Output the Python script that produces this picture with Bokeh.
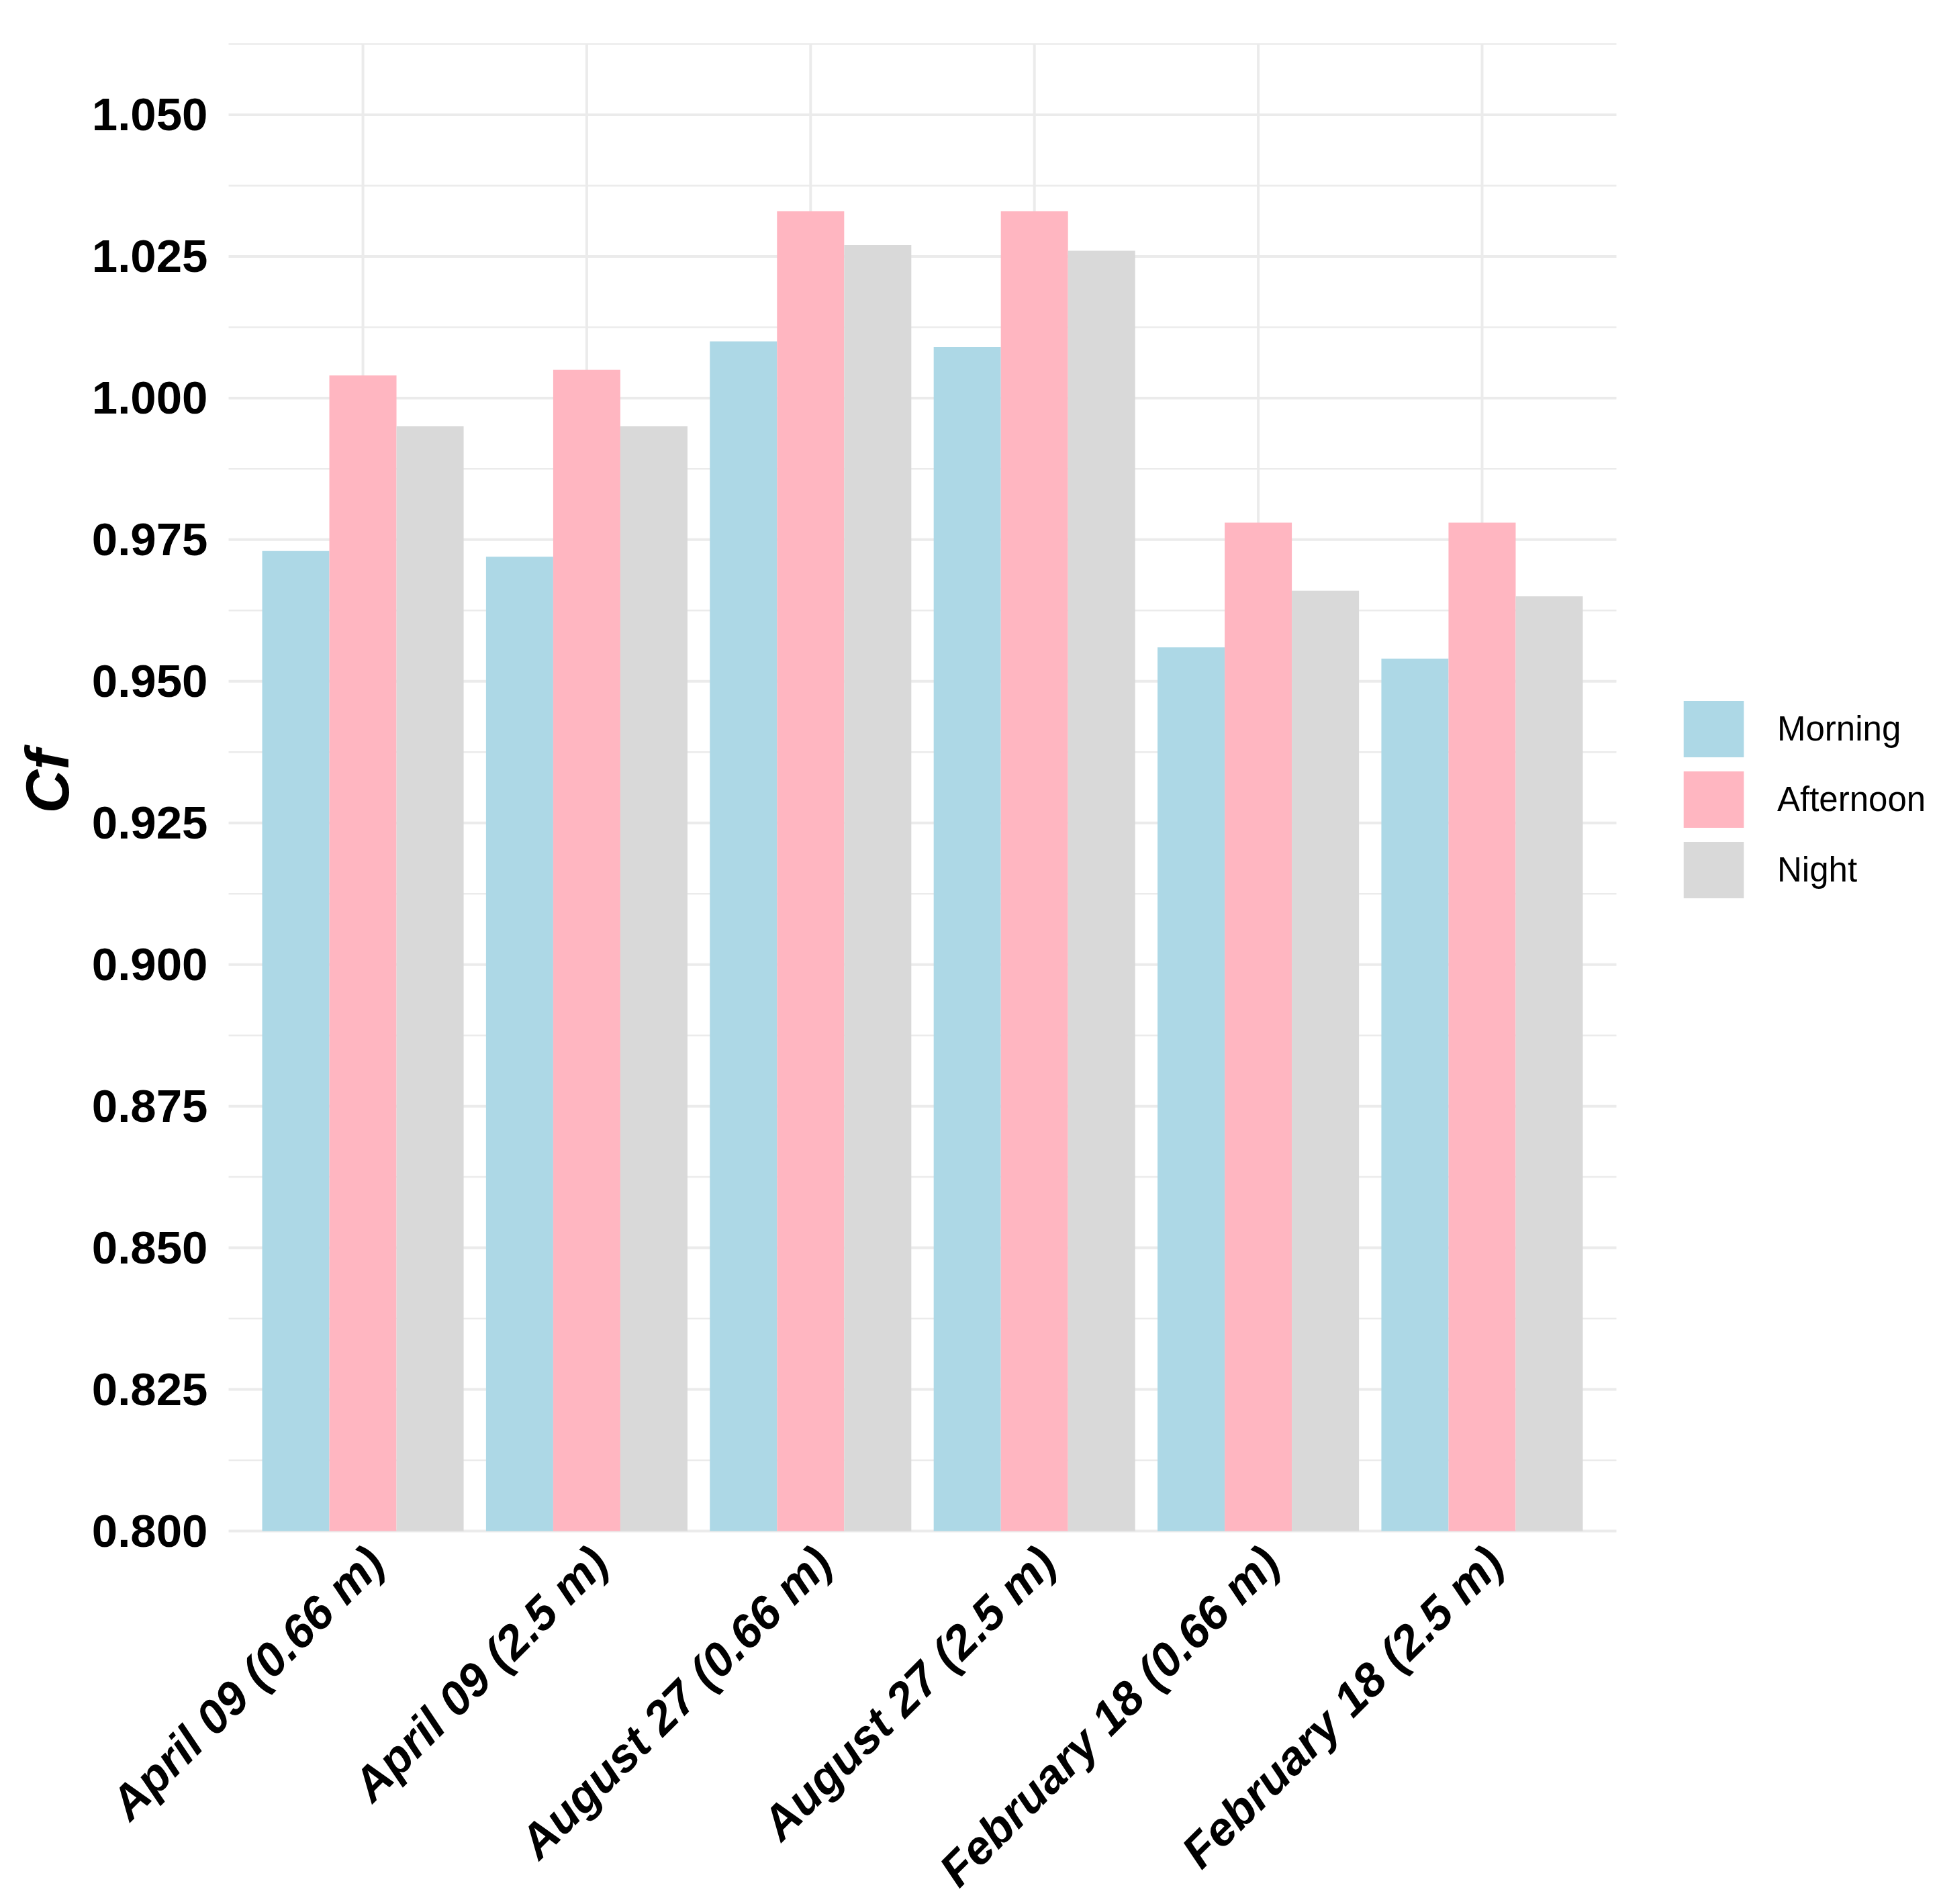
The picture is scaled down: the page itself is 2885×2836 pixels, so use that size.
from math import pi

from bokeh.core.properties import value
from bokeh.embed import file_html
from bokeh.models import (ColumnDataSource, FixedTicker, Label, LabelSet,
                          Legend, LegendItem, NumeralTickFormatter, Range1d)
from bokeh.plotting import figure
from bokeh.resources import INLINE
from bokeh.transform import dodge

# ---------------- data ----------------
categories = [
    "April 09 (0.66 m)",
    "April 09 (2.5 m)",
    "August 27 (0.66 m)",
    "August 27 (2.5 m)",
    "February 18 (0.66 m)",
    "February 18 (2.5 m)",
]
periods = ["Morning", "Afternoon", "Night"]
morning = [0.973, 0.972, 1.010, 1.009, 0.956, 0.954]
afternoon = [1.004, 1.005, 1.033, 1.033, 0.978, 0.978]
night = [0.995, 0.995, 1.027, 1.026, 0.966, 0.965]
colors = ["#ADD8E6", "#FFB6C1", "#D9D9D9"]

y_ticks = [0.800, 0.825, 0.850, 0.875, 0.900, 0.925, 0.950, 0.975,
           1.000, 1.025, 1.050]
y_minor = [0.8125, 0.8375, 0.8625, 0.8875, 0.9125, 0.9375, 0.9625,
           0.9875, 1.0125, 1.0375, 1.0625]
y_min, y_max = 0.800, 1.0625
y_title = "Cf"

FONT = "Liberation Sans"
GRID = "#EBEBEB"

# ---------------- layout (pixels) ----------------
W, H = 2869, 2820
LEFT, TOP = 340, 65                     # panel offset inside the figure
PANEL_W, PANEL_H = 2067, 2215           # plotting panel (ggplot panel)

positions = list(range(1, len(categories) + 1))
x_lo, x_hi = 0.4, len(categories) + 0.6   # discrete scale expansion
px_per_x = PANEL_W / (x_hi - x_lo)
px_per_y = PANEL_H / (y_max - y_min)
# the Bokeh frame covers the whole canvas, so labels/legend are never clipped
x_start = x_lo - LEFT / px_per_x
x_end = x_hi + (W - LEFT - PANEL_W) / px_per_x
y_start = y_min - (H - TOP - PANEL_H) / px_per_y
y_end = y_max + TOP / px_per_y

source = ColumnDataSource(dict(pos=positions, cat=categories, Morning=morning,
                               Afternoon=afternoon, Night=night))

p = figure(
    width=W, height=H, title=None,
    x_range=Range1d(x_start, x_end), y_range=Range1d(y_start, y_end),
    x_axis_location=None,
    output_backend="svg", toolbar_location=None,
    min_border_left=0, min_border_right=0,
    min_border_top=0, min_border_bottom=0,
)
p.outline_line_color = None
p.background_fill_color = "white"
p.border_fill_color = "white"
p.xgrid.visible = False
p.ygrid.visible = False

# panel grid lines (theme_minimal look)
p.segment(x0=x_lo, x1=x_hi, y0=y_minor, y1=y_minor,
          line_color=GRID, line_width=2.5)
p.segment(x0=x_lo, x1=x_hi, y0=y_ticks, y1=y_ticks,
          line_color=GRID, line_width=4)
p.segment(x0=positions, x1=positions, y0=y_min, y1=y_max,
          line_color=GRID, line_width=4)

# bars (dodged, width 0.3 each)
renderers = []
offsets = [-0.3, 0.0, 0.3]
for name, off, col in zip(periods, offsets, colors):
    r = p.vbar(x=dodge("pos", off), top=name, bottom=y_min,
               width=0.3, source=source, fill_color=col, line_color=None)
    renderers.append(r)

# y axis, pinned to the panel's left edge
yax = p.yaxis[0]
yax.fixed_location = x_lo
yax.ticker = FixedTicker(ticks=y_ticks, minor_ticks=[])
yax.bounds = (y_min, y_max)
yax.formatter = NumeralTickFormatter(format="0.000")
yax.axis_line_color = None
yax.major_tick_line_color = None
yax.minor_tick_line_color = None
yax.major_label_standoff = 25
yax.major_label_text_font = FONT
yax.major_label_text_font_style = "bold"
yax.major_label_text_font_size = "69px"
yax.major_label_text_color = "black"

# y axis title
p.add_layout(Label(
    x=70, x_units="screen", y=(y_min + y_max) / 2, y_offset=9,
    text=y_title, angle=pi / 2, text_align="center",
    text_baseline="alphabetic",
    text_font=FONT, text_font_style="bold italic",
    text_font_size="90px", text_color="black",
))

# rotated category labels (end of text at the tick, like hjust = 1)
labels = LabelSet(
    x="pos", y=y_min, text="cat", source=source,
    x_offset=19, y_offset=-35, angle=pi / 4,
    text_align="right", text_baseline="middle",
    text_font=value(FONT), text_font_style="bold italic",
    text_font_size="70px", text_color="black",
)
p.add_layout(labels)

# legend to the right of the panel
legend = Legend(
    items=[LegendItem(label=n, renderers=[r]) for n, r in zip(periods, renderers)],
    location=(2496, 1472), orientation="vertical",
    padding=0, margin=0, spacing=0,
    glyph_width=112, glyph_height=105, label_standoff=39,
    label_text_font=FONT, label_text_font_size="51px",
    label_text_color="black",
    border_line_color=None, background_fill_alpha=0,
)
p.add_layout(legend)

open("out.html", "w").write(file_html(p, INLINE))
